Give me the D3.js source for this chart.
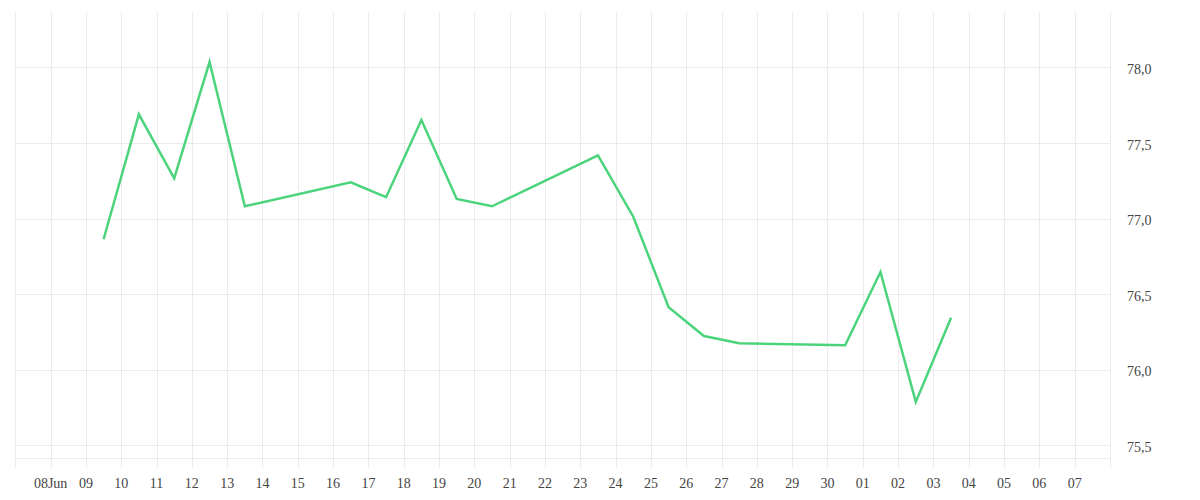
<!DOCTYPE html>
<html><head><meta charset="utf-8">
<script src="https://cdn.jsdelivr.net/npm/d3@7"></script>
<style>body{margin:0;background:#fff}svg{display:block}text{font-family:"Liberation Serif",serif;font-size:14px;fill:#444}</style>
</head><body><svg id="c" width="1200" height="500"></svg>
<script>
const dates = ["2025-06-09","2025-06-10","2025-06-11","2025-06-12","2025-06-13","2025-06-16","2025-06-17","2025-06-18","2025-06-19","2025-06-20","2025-06-23","2025-06-24","2025-06-25","2025-06-26","2025-06-27","2025-06-30","2025-07-01","2025-07-02","2025-07-03"];
const values = [76.864,77.690,77.267,78.036,77.082,77.241,77.142,77.653,77.130,77.082,77.419,77.013,76.414,76.224,76.176,76.163,76.647,75.788,76.345];
const yTicks = [75.5,76.0,76.5,77.0,77.5,78.0];
const xStart = "2025-06-07", xEnd = "2025-07-08";

const svg = d3.select("#c");
const parse = d3.utcParse("%Y-%m-%d");
const L=15.3, R=1110, T=12, B=458;
const x = d3.scaleUtc().domain([parse(xStart), parse(xEnd)]).range([L,R]);
const y = d3.scaleLinear().domain([75.417,78.367]).range([B,T]);
const grid = "#ececec";

// vertical grid (day ticks) extending below plot
const days = d3.utcDay.range(parse(xStart), d3.utcDay.offset(parse(xEnd),1));
svg.append("g").selectAll("line").data(days).join("line")
  .attr("x1",d=>Math.round(x(d))+0.5).attr("x2",d=>Math.round(x(d))+0.5)
  .attr("y1",T).attr("y2",B+10).attr("stroke",grid).attr("stroke-width",1);
// horizontal grid
svg.append("g").selectAll("line").data(yTicks.concat([y.domain()[0]])).join("line")
  .attr("x1",L).attr("x2",R)
  .attr("y1",d=>Math.round(y(d))+0.5).attr("y2",d=>Math.round(y(d))+0.5)
  .attr("stroke",grid).attr("stroke-width",1);

// x labels
const labelDays = days.filter(d=>d>parse(xStart) && d<parse(xEnd));
svg.append("g").selectAll("text").data(labelDays).join("text")
  .attr("x",d=>x(d)).attr("y",488).attr("text-anchor","middle")
  .text((d,i)=> i===0 ? d3.utcFormat("%d")(d)+d3.utcFormat("%b")(d) : d3.utcFormat("%d")(d));

// y labels
svg.append("g").selectAll("text").data(yTicks).join("text")
  .attr("x",1127).attr("y",d=>y(d)+6.5)
  .text(d=>d3.format(".1f")(d).replace(".",","));

// line
const data = dates.map((d,i)=>({t:d3.utcHour.offset(parse(d),12), v:values[i]}));
svg.append("path").datum(data)
  .attr("fill","none").attr("stroke","#4cd47c").attr("stroke-width",2.5)
  .attr("stroke-linejoin","miter")
  .attr("d", d3.line().x(d=>x(d.t)).y(d=>y(d.v)));
</script></body></html>
